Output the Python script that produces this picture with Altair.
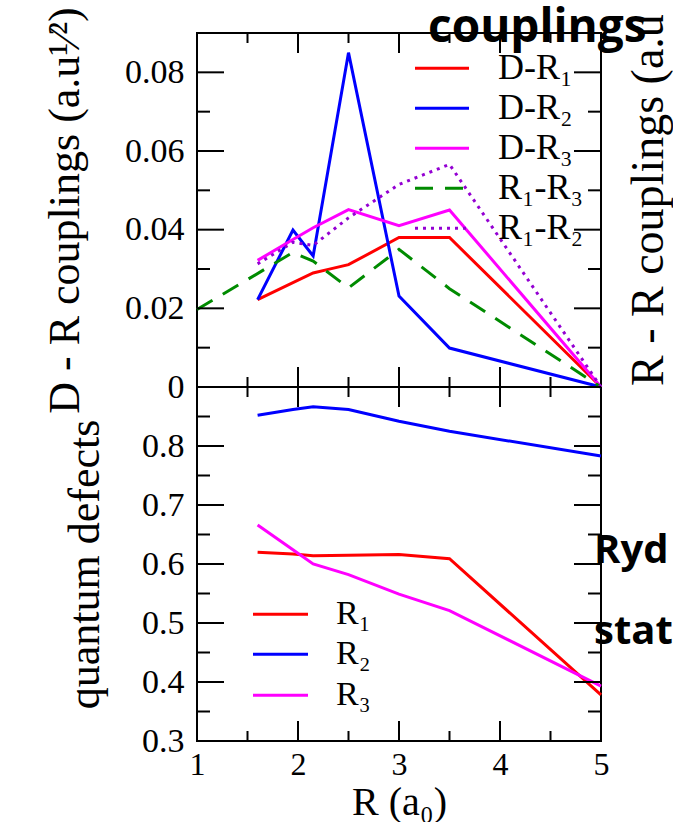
import altair as alt
import pandas as pd

SERIF = "Liberation Serif"
SANS = "Open Sans"

# ---------------- data ----------------
# top panel: couplings
R_dr1 = [1.6, 2.15, 2.3, 2.5, 3.0, 3.5, 5.0]
dr1 = [0.0222, 0.0290, 0.0299, 0.0311, 0.0380, 0.0380, 0.0]
R_dr2 = [1.6, 1.95, 2.15, 2.5, 3.0, 3.5, 5.0]
dr2 = [0.0222, 0.0399, 0.0333, 0.0850, 0.0231, 0.0099, 0.0]
R_dr3 = [1.6, 1.95, 2.15, 2.5, 3.0, 3.5, 5.0]
dr3 = [0.0322, 0.0375, 0.0405, 0.0451, 0.0410, 0.0450, 0.0]
R_r13 = [1.0, 1.95, 2.15, 2.5, 3.0, 3.5, 5.0]
r1r3 = [0.0197, 0.0342, 0.0320, 0.0252, 0.0350, 0.0250, 0.0]
R_r12 = [1.6, 1.95, 2.15, 2.5, 3.0, 3.5, 5.0]
r1r2 = [0.0313, 0.0368, 0.0360, 0.0430, 0.0515, 0.0566, 0.0]

# bottom panel: quantum defects
R_qd = [1.6, 1.95, 2.15, 2.5, 3.0, 3.5, 5.0]
qd_r1 = [0.620, 0.617, 0.614, 0.615, 0.616, 0.609, 0.378]
qd_r2 = [0.852, 0.862, 0.8666, 0.862, 0.842, 0.825, 0.783]
qd_r3 = [0.666, 0.624, 0.600, 0.582, 0.549, 0.521, 0.393]

top_names = ["D-R\u2081", "D-R\u2082", "D-R\u2083", "R\u2081-R\u2083", "R\u2081-R\u2082"]
top_colors = ["#ff0000", "#0000ff", "#ff00ff", "#008b00", "#9400d3"]
top_dash = [None, None, None, [18, 12], [3, 5]]
top_x = [R_dr1, R_dr2, R_dr3, R_r13, R_r12]
top_y = [dr1, dr2, dr3, r1r3, r1r2]

bot_names = ["R\u2081", "R\u2082", "R\u2083"]
bot_colors = ["#ff0000", "#0000ff", "#ff00ff"]
bot_y = [qd_r1, qd_r2, qd_r3]

x_ticks = [1, 2, 3, 4, 5]
x_major = [2, 3, 4]
x_minor = [1.5, 2.5, 3.5, 4.5]
yt_ticks = [0, 0.02, 0.04, 0.06, 0.08]
yt_major = [0.02, 0.04, 0.06, 0.08]
yt_minor = [0.01, 0.03, 0.05, 0.07]
yb_ticks = [0.3, 0.4, 0.5, 0.6, 0.7, 0.8]
yb_major = [0.4, 0.5, 0.6, 0.7, 0.8]
yb_minor = [0.35, 0.45, 0.55, 0.65, 0.75, 0.85]

W, H = 404, 708
HALF = 354

# ---------------- scales & axes ----------------
x_scale = alt.Scale(domain=[1, 5], nice=False, zero=False)
yt_scale = alt.Scale(domain=[0, 0.09], range=[HALF, 0], nice=False, zero=False)
yb_scale = alt.Scale(domain=[0.3, 0.9], range=[H, HALF], nice=False, zero=False)

x_axis = alt.Axis(values=x_ticks, format="d", ticks=False, tickSize=0, domain=False,
                  grid=False, labelFont=SERIF, labelFontSize=32, labelColor="black",
                  labelPadding=8, labelFlush=False, title="R (a\u2080)", titleFont=SERIF,
                  titleFontSize=40, titleFontWeight="normal", titleColor="black",
                  titleX=W / 2, titleY=73, titleBaseline="alphabetic", titleAlign="center",
                  orient="bottom")

yt_axis = alt.Axis(values=yt_ticks, labelExpr="datum.value == 0 ? '0' : format(datum.value, '.2f')",
                   ticks=False, tickSize=0, domain=False, grid=False, orient="left",
                   labelFont=SERIF, labelFontSize=34, labelColor="black", labelPadding=13,
                   labelFlush=False,
                   title="D - R couplings (a.u\u00b9\u2044\u00b2)", titleFont=SERIF,
                   titleFontSize=44, titleFontWeight="normal", titleColor="black",
                   titleAngle=270, titleX=-119, titleY=HALF / 2, titleBaseline="alphabetic",
                   titleAlign="center")

yb_axis = alt.Axis(values=yb_ticks, format=".1f",
                   ticks=False, tickSize=0, domain=False, grid=False, orient="left",
                   labelFont=SERIF, labelFontSize=34, labelColor="black", labelPadding=13,
                   labelFlush=False,
                   title="quantum defects", titleFont=SERIF,
                   titleFontSize=44, titleFontWeight="normal", titleColor="black",
                   titleAngle=270, titleX=-99, titleY=HALF + HALF / 2, titleBaseline="alphabetic",
                   titleAlign="center")

X = lambda f="R": alt.X(f"{f}:Q", scale=x_scale, axis=x_axis)

# ---------------- top group ----------------
top_layers = []
for xs, ys, c, d in zip(top_x, top_y, top_colors, top_dash):
    df = pd.DataFrame({"R": xs, "val": ys})
    kw = dict(color=c, strokeWidth=3)
    if d:
        kw["strokeDash"] = d
    top_layers.append(alt.Chart(df).mark_line(**kw).encode(
        x=X(), y=alt.Y("val:Q", scale=yt_scale, axis=yt_axis)))

def ytick_layer(vals, scale, axis, x0, x1):
    return alt.Chart(pd.DataFrame({"v": vals})).mark_rule(color="black", strokeWidth=2).encode(
        y=alt.Y("v:Q", scale=scale, axis=axis), x=alt.value(x0), x2=alt.value(x1))

top_layers += [
    ytick_layer(yt_major, yt_scale, yt_axis, 0, 27),
    ytick_layer(yt_minor, yt_scale, yt_axis, 0, 13),
    ytick_layer(yt_major, yt_scale, yt_axis, W - 27, W),
    ytick_layer(yt_minor, yt_scale, yt_axis, W - 13, W),
]
top_group = alt.layer(*top_layers)

# ---------------- bottom group ----------------
bot_layers = []
for ys, c in zip(bot_y, bot_colors):
    df = pd.DataFrame({"R": R_qd, "val": ys})
    bot_layers.append(alt.Chart(df).mark_line(color=c, strokeWidth=3).encode(
        x=X(), y=alt.Y("val:Q", scale=yb_scale, axis=yb_axis)))
bot_layers += [
    ytick_layer(yb_major, yb_scale, yb_axis, 0, 27),
    ytick_layer(yb_minor, yb_scale, yb_axis, 0, 13),
    ytick_layer(yb_major, yb_scale, yb_axis, W - 27, W),
    ytick_layer(yb_minor, yb_scale, yb_axis, W - 13, W),
]
bot_group = alt.layer(*bot_layers)

# ---------------- x ticks, divider, legends, annotations ----------------
def xtick_layer(vals, y0, y1):
    return alt.Chart(pd.DataFrame({"R": vals})).mark_rule(color="black", strokeWidth=2).encode(
        x=X(), y=alt.value(y0), y2=alt.value(y1))

others = [
    xtick_layer(x_major, H - 20, H), xtick_layer(x_minor, H - 10, H),
    xtick_layer(x_major, 0, 20), xtick_layer(x_minor, 0, 10),
    xtick_layer(x_major, HALF - 20, HALF + 20), xtick_layer(x_minor, HALF - 10, HALF + 10),
    alt.Chart(pd.DataFrame({"k": [0]})).mark_rule(color="black", strokeWidth=2).encode(
        x=alt.value(0), x2=alt.value(W), y=alt.value(HALF)),
    # invisible anchors fixing the page origin
    alt.Chart(pd.DataFrame({"k": [0]})).mark_rule(color="white", strokeWidth=1).encode(
        x=alt.value(-196), x2=alt.value(-195), y=alt.value(-32), y2=alt.value(-31.5)),
]

for i, (name, c, d) in enumerate(zip(top_names, top_colors, top_dash)):
    yy = 35.3 + 40 * i
    kw = dict(color=c, strokeWidth=3)
    if d:
        kw["strokeDash"] = d
    df = pd.DataFrame({"label": [name]})
    others.append(alt.Chart(df).mark_rule(**kw).encode(
        x=alt.value(218), x2=alt.value(272), y=alt.value(yy)))
    others.append(alt.Chart(df).mark_text(font=SERIF, fontSize=36, align="left",
                                          baseline="middle", color="black").encode(
        text="label:N", x=alt.value(301), y=alt.value(yy)))

for i, (name, c) in enumerate(zip(bot_names, bot_colors)):
    yy = [581.3, 621.3, 662.3][i]
    df = pd.DataFrame({"label": [name]})
    others.append(alt.Chart(df).mark_rule(color=c, strokeWidth=3).encode(
        x=alt.value(56), x2=alt.value(111), y=alt.value(yy)))
    others.append(alt.Chart(df).mark_text(font=SERIF, fontSize=34, align="left",
                                          baseline="middle", color="black").encode(
        text="label:N", x=alt.value(139), y=alt.value(yy)))

# right-hand axis title (its labels are outside the picture)
others.append(alt.Chart(pd.DataFrame({"t": ["R - R couplings (a.u"]})).mark_text(
    font=SERIF, fontSize=46, angle=270, align="left", baseline="alphabetic", color="black").encode(
    text="t:N", x=alt.value(466), y=alt.value(353)))

# slide text overlapping the figure
for txt, xx, yy, fs in [("couplings", 231, 9, 46), ("Ryd", 397, 530, 40), ("stat", 397, 611, 40)]:
    others.append(alt.Chart(pd.DataFrame({"t": [txt]})).mark_text(
        font=SANS, fontSize=fs, fontWeight="bold", align="left", baseline="alphabetic",
        color="black").encode(text="t:N", x=alt.value(xx), y=alt.value(yy)))

chart = alt.layer(top_group, bot_group, *others).resolve_scale(y="independent").properties(
    width=W, height=H, padding=0, background="white"
).configure_view(stroke="black", strokeWidth=2).configure_axis(
    labelFont=SERIF, titleFont=SERIF, labelColor="black", titleColor="black"
).configure_text(font=SERIF)

chart.save("out.html", embed_options={"renderer": "svg", "actions": False})
